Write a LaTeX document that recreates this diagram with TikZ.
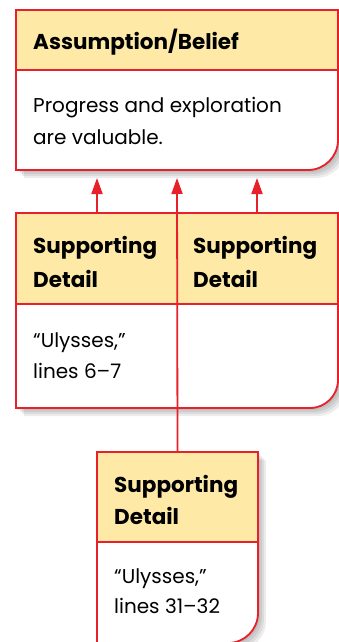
\documentclass[tikz,border=0pt]{standalone}
\usepackage{fontspec}
\setmainfont{Poppins}
\usetikzlibrary{arrows.meta}
\definecolor{bred}{HTML}{E8202A}
\definecolor{hyel}{HTML}{FEEAA6}
\tikzset{
  frame/.style={inner sep=0pt, outer sep=0pt},
  border/.style={draw=bred, line width=1.8pt, line join=miter},
  divider/.style={draw=bred, line width=1.4pt},
  shade/.style={fill=black, opacity=0.07},
  head/.style={anchor=base west, align=left, inner sep=0pt, font=\bfseries\fontsize{21.5}{34}\selectfont},
  body/.style={anchor=base west, align=left, inner sep=0pt, font=\fontsize{20}{32}\selectfont},
  conn/.style={draw=bred, line width=1.8pt, -{Triangle[length=16pt,width=11pt]}},
}
\begin{document}
\begin{tikzpicture}[x=1pt,y=-1pt]
\useasboundingbox (0,0) rectangle (339,642);
% frame nodes
\node[frame, minimum width=322pt, minimum height=160pt] (top) at (177,90) {};
\node[frame, minimum width=322pt, minimum height=195pt] (mid) at (177,310.5) {};
\node[frame, minimum width=161pt, minimum height=191pt] (bot) at (177.5,547.5) {};
% shadows
\foreach \s in {2,4,6,8}{
  \fill[shade] ([xshift=\s pt,yshift=-\s pt]top.north west) -- ([xshift=\s pt,yshift=-\s pt]top.north east) -- ([xshift=\s pt,yshift=30pt-\s pt]top.south east) arc[start angle=0,end angle=-90,radius=30pt] -- ([xshift=\s pt,yshift=-\s pt]top.south west) -- cycle;
  \fill[shade] ([xshift=\s pt,yshift=-\s pt]mid.north west) -- ([xshift=\s pt,yshift=-\s pt]mid.north east) -- ([xshift=\s pt,yshift=28pt-\s pt]mid.south east) arc[start angle=0,end angle=-90,radius=28pt] -- ([xshift=\s pt,yshift=-\s pt]mid.south west) -- cycle;
  \fill[shade] ([xshift=\s pt,yshift=-\s pt]bot.north west) -- ([xshift=\s pt,yshift=-\s pt]bot.north east) -- ([xshift=\s pt,yshift=30pt-\s pt]bot.south east) arc[start angle=0,end angle=-90,radius=30pt] -- ([xshift=\s pt,yshift=-\s pt]bot.south west) -- cycle;
}
% top box
\fill[white] (top.north west) -- (top.north east) -- ([yshift=30pt]top.south east) arc[start angle=0,end angle=-90,radius=30pt] -- (top.south west) -- cycle;
\fill[hyel] (top.north west) rectangle ([yshift=-60pt]top.north east);
\draw[divider] ([yshift=-60pt]top.north west) -- ([yshift=-60pt]top.north east);
\draw[border] (top.north west) -- (top.north east) -- ([yshift=30pt]top.south east) arc[start angle=0,end angle=-90,radius=30pt] -- (top.south west) -- cycle;
\node[head] (toph) at (33,49) {Assumption/Belief};
\node[body] (topb) at (33,144) {Progress and exploration\\are valuable.};
% middle box
\fill[white] (mid.north west) -- (mid.north east) -- ([yshift=28pt]mid.south east) arc[start angle=0,end angle=-90,radius=28pt] -- (mid.south west) -- cycle;
\fill[hyel] (mid.north west) rectangle ([yshift=-91pt]mid.north east);
\draw[divider] ([yshift=-91pt]mid.north west) -- ([yshift=-91pt]mid.north east);
\draw[border] (mid.north west) -- (mid.north east) -- ([yshift=28pt]mid.south east) arc[start angle=0,end angle=-90,radius=28pt] -- (mid.south west) -- cycle;
\coordinate (midl) at (97,213);
\coordinate (midr) at (257,213);
\node[head] (midlh) at (33,287) {Supporting\\Detail};
\node[head] (midrh) at (193,287) {Supporting\\Detail};
\node[body, font=\fontsize{20}{31}\selectfont] (midlb) at (33,378) {“Ulysses,”\\lines 6–7};
% bottom box
\fill[white] (bot.north west) -- (bot.north east) -- ([yshift=30pt]bot.south east) arc[start angle=0,end angle=-90,radius=30pt] -- (bot.south west) -- cycle;
\fill[hyel] (bot.north west) rectangle ([yshift=-90pt]bot.north east);
\draw[divider] ([yshift=-90pt]bot.north west) -- ([yshift=-90pt]bot.north east);
\draw[border] (bot.north west) -- (bot.north east) -- ([yshift=30pt]bot.south east) arc[start angle=0,end angle=-90,radius=30pt] -- (bot.south west) -- cycle;
\node[head, font=\bfseries\fontsize{21.5}{32}\selectfont] (both) at (114,524) {Supporting\\Detail};
\node[body, font=\fontsize{20}{30}\selectfont] (botb) at (114,613) {“Ulysses,”\\lines 31–32};
% connectors
\coordinate (tl) at (97,178);
\coordinate (tr) at (257,178);
\coordinate (tc) at (177,178);
\draw[conn] (midl) -- (tl);
\draw[conn] (midr) -- (tr);
\draw[conn] (bot.north) -- (tc);
\end{tikzpicture}
\end{document}
